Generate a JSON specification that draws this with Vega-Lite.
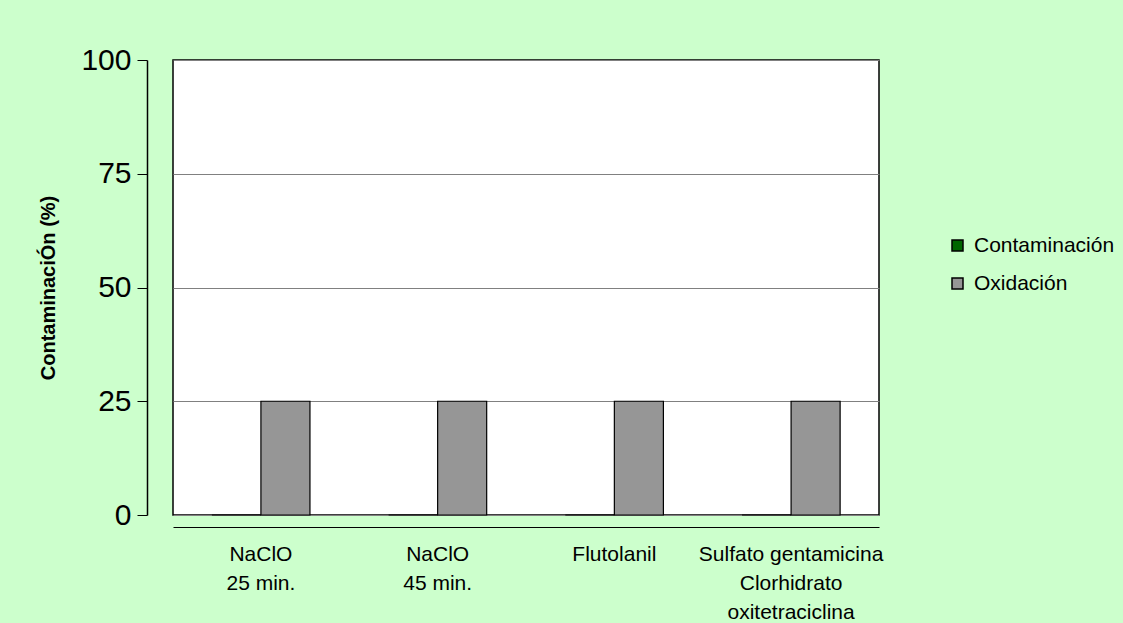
{
  "$schema": "https://vega.github.io/schema/vega-lite/v6.json",
  "width": 706,
  "height": 455,
  "autosize": {"type": "none"},
  "padding": {"left": 173, "top": 60, "right": 244, "bottom": 108},
  "background": "#CCFFCC",
  "config": {
    "font": "Liberation Sans",
    "view": {"fill": "white", "stroke": "black", "strokeWidth": 1.5}
  },
  "data": {
    "values": [
      {"tratamiento": "NaClO 25 min.", "serie": "Contaminación", "valor": 0},
      {"tratamiento": "NaClO 25 min.", "serie": "Oxidación", "valor": 25},
      {"tratamiento": "NaClO 45 min.", "serie": "Contaminación", "valor": 0},
      {"tratamiento": "NaClO 45 min.", "serie": "Oxidación", "valor": 25},
      {"tratamiento": "Flutolanil", "serie": "Contaminación", "valor": 0},
      {"tratamiento": "Flutolanil", "serie": "Oxidación", "valor": 25},
      {"tratamiento": "Sulfato gentamicina Clorhidrato oxitetraciclina", "serie": "Contaminación", "valor": 0},
      {"tratamiento": "Sulfato gentamicina Clorhidrato oxitetraciclina", "serie": "Oxidación", "valor": 25}
    ]
  },
  "mark": {"type": "bar", "stroke": "black", "strokeWidth": 1.2},
  "encoding": {
    "x": {
      "field": "tratamiento",
      "type": "nominal",
      "sort": null,
      "scale": {"paddingInner": 0.445, "paddingOuter": 0.22},
      "axis": {
        "title": null,
        "labelAngle": 0,
        "ticks": false,
        "domain": true,
        "domainColor": "black",
        "domainWidth": 1,
        "offset": 12,
        "labelPadding": 16,
        "labelFontSize": 21,
        "labelColor": "black",
        "labelLineHeight": 29,
        "labelBaseline": "top",
        "labelLimit": 300,
        "labelExpr": "datum.value == 'NaClO 25 min.' ? ['NaClO', '25 min.'] : datum.value == 'NaClO 45 min.' ? ['NaClO', '45 min.'] : datum.value == 'Flutolanil' ? 'Flutolanil' : ['Sulfato gentamicina', 'Clorhidrato', 'oxitetraciclina']"
      }
    },
    "xOffset": {
      "field": "serie",
      "type": "nominal",
      "sort": ["Contaminación", "Oxidación"],
      "scale": {"paddingInner": 0, "paddingOuter": 0}
    },
    "y": {
      "field": "valor",
      "type": "quantitative",
      "scale": {"domain": [0, 100], "nice": false},
      "axis": {
        "title": "ContaminaciÓn (%)",
        "titleFontSize": 20,
        "titleFontWeight": "bold",
        "titleColor": "black",
        "titlePadding": 22,
        "values": [0, 25, 50, 75, 100],
        "offset": 26,
        "domainColor": "black",
        "domainWidth": 1.5,
        "tickColor": "black",
        "tickSize": 10,
        "labelFontSize": 30,
        "labelColor": "black",
        "labelPadding": 6,
        "grid": true,
        "gridColor": "#808080",
        "gridWidth": 1
      }
    },
    "color": {
      "field": "serie",
      "type": "nominal",
      "sort": ["Contaminación", "Oxidación"],
      "scale": {"domain": ["Contaminación", "Oxidación"], "range": ["#006600", "#969696"]},
      "legend": {
        "title": null,
        "orient": "none",
        "legendX": 774,
        "legendY": 175,
        "symbolType": "square",
        "symbolSize": 121,
        "symbolStrokeColor": "black",
        "symbolStrokeWidth": 1.5,
        "symbolOpacity": 1,
        "labelFontSize": 21,
        "labelColor": "black",
        "rowPadding": 16,
        "labelOffset": 6
      }
    }
  }
}
